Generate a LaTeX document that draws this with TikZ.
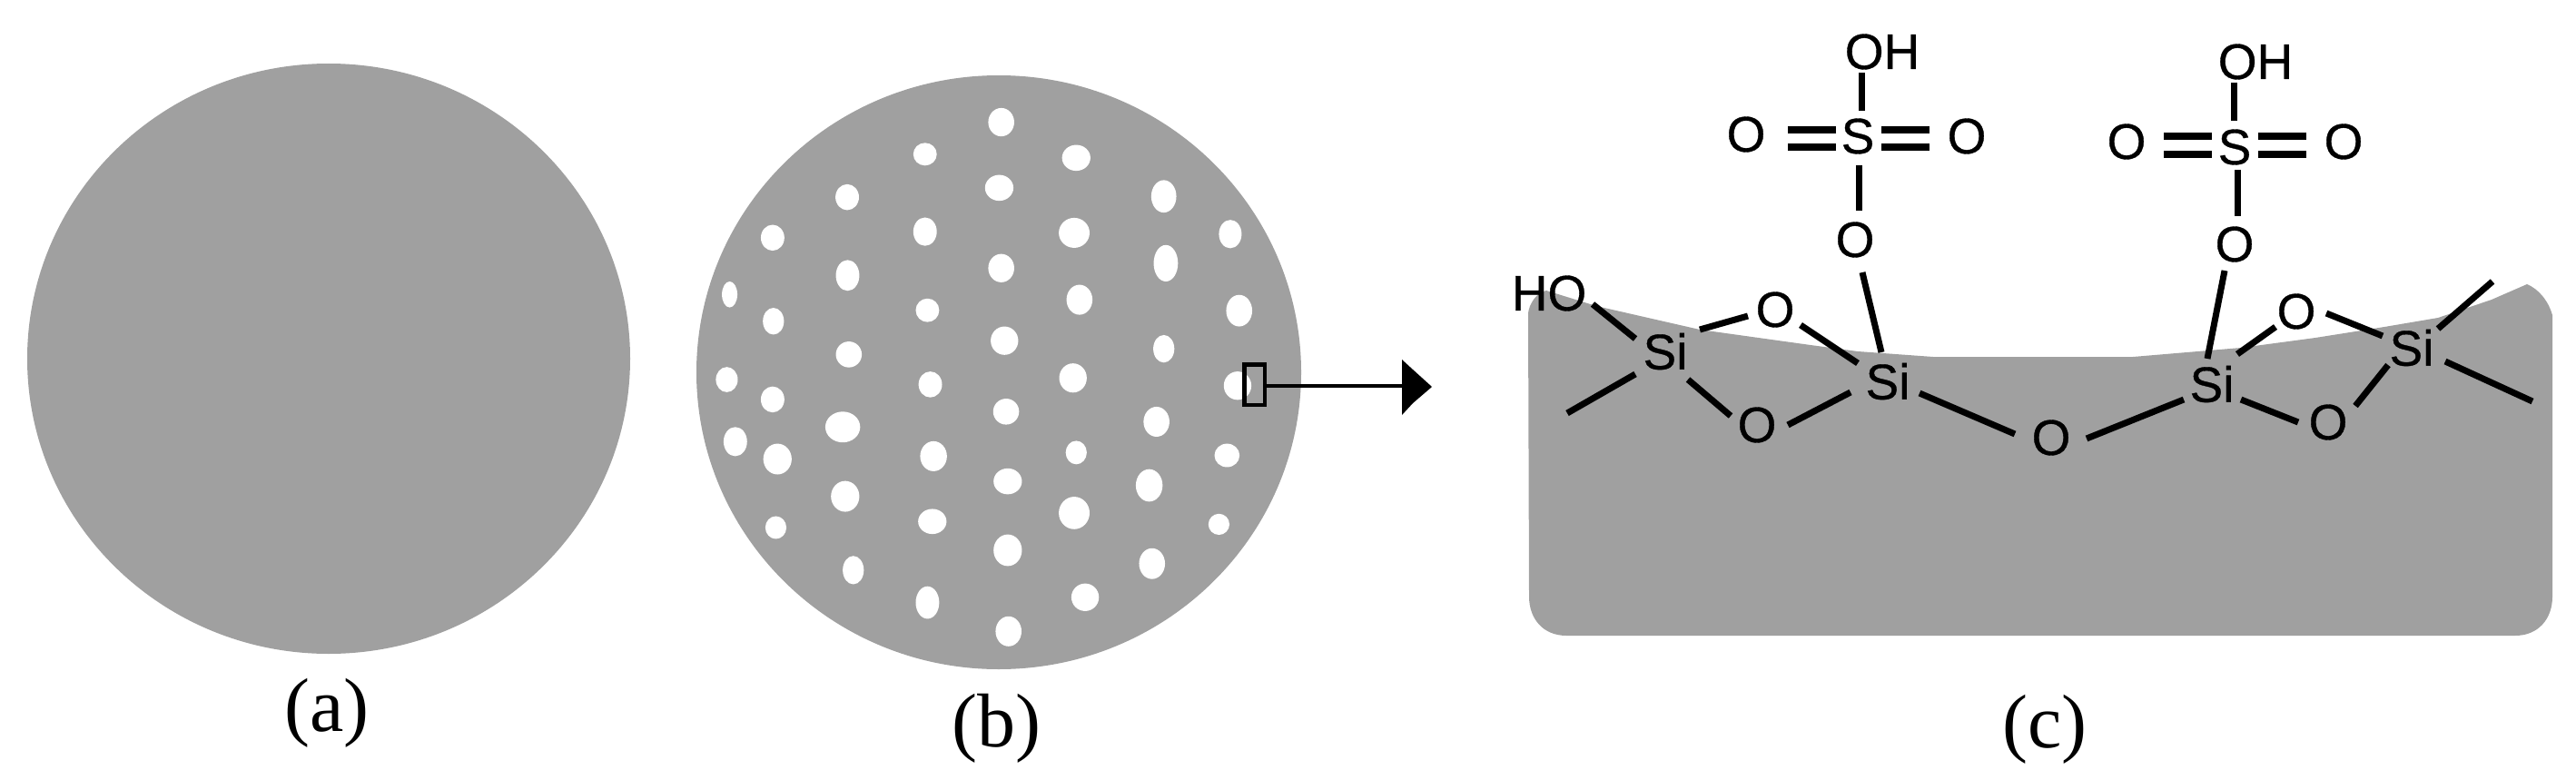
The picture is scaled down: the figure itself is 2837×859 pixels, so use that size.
\documentclass[tikz,border=0pt]{standalone}
\usepackage{fontspec}
\newfontfamily\chemfont[FakeBold=0.6]{Liberation Sans}
\newfontfamily\capfont{Liberation Serif}
\definecolor{surf}{HTML}{A0A0A0}
\tikzset{
  atom/.style={inner sep=0pt,outer sep=0pt,font=\chemfont\fontsize{55}{60}\selectfont},
  caption/.style={inner sep=0pt,font=\capfont\fontsize{84}{90}\selectfont},
  bond/.style={line width=7pt},
  dbond/.style={line width=8pt},
  hole/.style={fill=white},
  solid/.style={fill=surf}
}
\newcommand{\bond}[4]{\draw[bond] ([shift={(#2)}]#1) -- ([shift={(#4)}]#3);}
\newcommand{\dbl}[4]{\draw[dbond] ([shift={(#2)}]#1) -- ([shift={(#4)}]#3);}
\begin{document}
\begin{tikzpicture}[x=1pt,y=-1pt]
\useasboundingbox (0,0) rectangle (2837,859);
% discs
\fill[solid] (362,395) ellipse (332 and 325);
\fill[solid] (1100,410) ellipse (333 and 327);
\foreach \X/\Y/\A/\B in {
790/167/32/35, 602/246/29/28, 975/255/35/32, 785/329/35/32, 410/352/29/32, 1191/350/31/40,
226/452/29/32, 602/437/29/35, 970/440/38/37, 1355/443/28/35, 120/592/19/32, 411/545/29/38,
790/527/32/35, 1196/515/30/45, 983/605/32/37, 228/658/26/33, 608/631/29/29, 1377/632/32/39,
414/740/32/32, 798/706/34/35, 1191/726/26/34, 967/798/34/36, 113/802/27/31, 226/851/29/32,
615/814/29/32, 1373/817/34/35, 802/881/32/32, 399/919/43/38, 1173/906/32/37, 134/955/29/36,
238/998/35/38, 623/991/33/37, 975/982/26/29, 1347/989/31/29, 806/1053/35/32, 405/1090/35/38,
1155/1063/33/40, 970/1131/38/40, 620/1152/35/31, 234/1167/26/28, 1327/1159/26/26, 806/1223/35/39,
1162/1256/32/38, 425/1272/26/35, 608/1352/29/40, 997/1339/34/34, 808/1423/32/37}
  \fill[hole] ({750+\X/2.24},{60+\Y/2.24}) ellipse ({\A/2.24} and {\B/2.24});
% zoom box and arrow
\node[draw,line width=4.5pt,minimum width=22.5pt,minimum height=44.5pt,inner sep=0pt,outer sep=2.25pt] (zoombox) at (1381.5,423.5) {};
\coordinate (tip) at (1546,425);
\draw[line width=3.5pt] (zoombox.east |- tip) -- (tip);
\fill[black] (1544,396) -- (1556,407) -- (1577,426) -- (1556,444) -- (1544,457) -- cycle;
% surface
\fill[solid] (1683,345) .. controls (1684,335) and (1692,322) .. (1703,320) -- (1758,337) -- (1872,363) -- (1994,380) -- (2046,387) -- (2129,393)
  -- (2349,393) -- (2468,383) -- (2550,372) -- (2626,360) -- (2685,350) -- (2744,330) -- (2783,313) .. controls (2795,318) and (2806,330) .. (2811,347)
  -- (2811,657) .. controls (2811,682) and (2795,700) .. (2770,700) -- (1725,700)
  .. controls (1700,700) and (1684,682) .. (1684,657) -- cycle;
% atoms
\node[atom] (oh1) at (2073,57) {OH};
\node[atom] (s1) at (2046,150) {S};
\node[atom] (s1l) at (1923,148) {O};
\node[atom] (s1r) at (2166,150) {O};
\node[atom] (ol1) at (2043,264) {O};
\node[atom] (oh2) at (2484,68) {OH};
\node[atom] (s2) at (2461,162) {S};
\node[atom] (s2l) at (2342,156) {O};
\node[atom] (s2r) at (2581,156) {O};
\node[atom] (ol2) at (2461,269) {O};
\node[atom] (ho) at (1706,323) {HO};
\node[atom] (sia) at (1834,387) {Si};
\node[atom] (otl) at (1955,341) {O};
\node[atom] (obl) at (1935,468) {O};
\node[atom] (sib) at (2079,420) {Si};
\node[atom] (om) at (2259,482) {O};
\node[atom] (sic) at (2436,423) {Si};
\node[atom] (otr) at (2529,343) {O};
\node[atom] (obr) at (2564,465) {O};
\node[atom] (sid) at (2656,383) {Si};
\coordinate (fa) at (1726,455);
\coordinate (fb) at (2745,310);
\coordinate (fc) at (2789,442);
% sulfate groups
\bond{oh1.center}{-23,23}{s1.center}{4,-28}
\bond{s1.center}{1,32}{ol1.center}{4,-32}
\dbl{s1.center}{-24,-7}{s1l.center}{46,-5}
\dbl{s1.center}{-24,12}{s1l.center}{46,14}
\dbl{s1.center}{26,-7}{s1r.center}{-41,-7}
\dbl{s1.center}{26,12}{s1r.center}{-41,12}
\bond{oh2.center}{-24,23}{s2.center}{-1,-29}
\bond{s2.center}{3,25}{ol2.center}{3,-31}
\dbl{s2.center}{-25,-12}{s2l.center}{41,-6}
\dbl{s2.center}{-25,8}{s2l.center}{41,14}
\dbl{s2.center}{26,-12}{s2r.center}{-41,-6}
\dbl{s2.center}{26,8}{s2r.center}{-41,14}
% skeleton
\bond{ol1.center}{8,36}{sib.center}{-7,-32}
\bond{ol2.center}{-11,29}{sic.center}{-5,-28}
\bond{ho.center}{48,12}{sia.center}{-33,-14}
\bond{sia.center}{-33,25}{fa}{0,0}
\bond{sia.center}{38,-24}{otl.center}{-30,7}
\bond{sia.center}{25,31}{obl.center}{-29,-10}
\bond{otl.center}{28,17}{sib.center}{-33,-20}
\bond{obl.center}{34,0}{sib.center}{-41,12}
\bond{sib.center}{35,13}{om.center}{-40,-4}
\bond{om.center}{39,1}{sic.center}{-31,17}
\bond{sic.center}{28,-33}{otr.center}{-23,17}
\bond{sic.center}{32,17}{obr.center}{-33,0}
\bond{otr.center}{33,2}{sid.center}{-32,-13}
\bond{obr.center}{30,-18}{sid.center}{-26,19}
\bond{sid.center}{29,-21}{fb}{0,0}
\bond{sid.center}{37,15}{fc}{0,0}
% captions
\node[caption] (capa) at (360,785) {(a)};
\node[caption] (capb) at (1097,802) {(b)};
\node[caption] (capc) at (2252,803) {(c)};
\end{tikzpicture}
\end{document}
